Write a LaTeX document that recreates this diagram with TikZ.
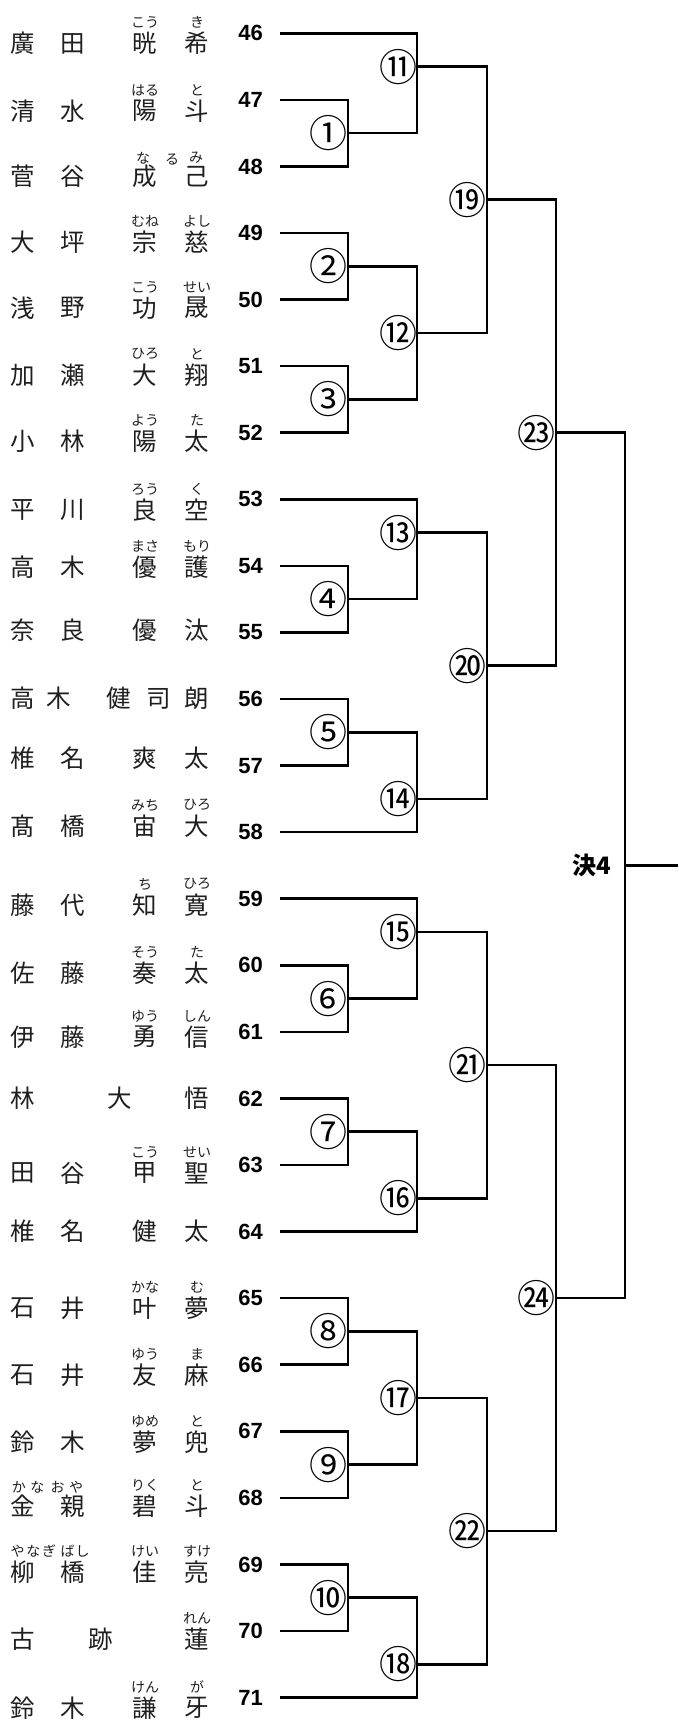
\documentclass[tikz,border=0pt]{standalone}
\usepackage{fontspec}
\setmainfont{Liberation Sans}
\newfontfamily\jp{Noto Sans CJK JP}
\tikzset{
  kanji/.style={inner sep=0pt, font=\jp\fontsize{24.5}{24.5}\selectfont, text=black!88},
  furi/.style={inner sep=0pt, font=\jp\fontsize{14}{14}\selectfont, text=black!88},
  num/.style={inner sep=0pt, anchor=east, font=\bfseries\fontsize{22}{22}\selectfont},
  circ/.style={inner sep=0pt, font=\jp\fontsize{38}{38}\selectfont},
  final/.style={inner sep=0pt, anchor=east, font=\jp\bfseries\fontsize{24}{24}\selectfont},
  br/.style={line width=2.6pt},
}
\newcommand\ry[1]{(33.3+66.57*(#1))}
\newcommand\namerow[8]{%
  \node[kanji] (a#8) at (23,#1) {#2};
  \node[kanji] (b#8) at (73,#1) {#3};
  \node[kanji] (c#8) at (145,#1) {#4};
  \node[kanji] (d#8) at (197,#1) {#5};
  \node[furi] (e#8) at (145,{#1-21}) {#6};
  \node[furi] (f#8) at (197,{#1-21}) {#7};
}
\begin{document}
\begin{tikzpicture}[x=1pt,y=-1pt]
\useasboundingbox (0,0) rectangle (678,1725);

% player numbers and line starts
\foreach \n [count=\i from 0] in {46,...,71} {
  \node[num] (p\n) at (263,{\ry{\i}}) {\n};
  \coordinate (s\n) at (280,{\ry{\i}});
}

% junctions
\coordinate (j1) at (348,{\ry{1.5}});
\coordinate (j2) at (348,{\ry{3.5}});
\coordinate (j3) at (348,{\ry{5.5}});
\coordinate (j4) at (348,{\ry{8.5}});
\coordinate (j5) at (348,{\ry{10.5}});
\coordinate (j6) at (348,{\ry{14.5}});
\coordinate (j7) at (348,{\ry{16.5}});
\coordinate (j8) at (348,{\ry{19.5}});
\coordinate (j9) at (348,{\ry{21.5}});
\coordinate (j10) at (348,{\ry{23.5}});
\coordinate (j11) at (417,{\ry{0.5}});
\coordinate (j12) at (417,{\ry{4.5}});
\coordinate (j13) at (417,{\ry{7.5}});
\coordinate (j14) at (417,{\ry{11.5}});
\coordinate (j15) at (417,{\ry{13.5}});
\coordinate (j16) at (417,{\ry{17.5}});
\coordinate (j17) at (417,{\ry{20.5}});
\coordinate (j18) at (417,{\ry{24.5}});
\coordinate (j19) at (487,{\ry{2.5}});
\coordinate (j20) at (487,{\ry{9.5}});
\coordinate (j21) at (487,{\ry{15.5}});
\coordinate (j22) at (487,{\ry{22.5}});
\coordinate (j23) at (556,{\ry{6}});
\coordinate (j24) at (556,{\ry{19}});
\coordinate (jF) at (625,{\ry{12.5}});
\coordinate (fend) at (678,{\ry{12.5}});

% round 1
\draw[br] (s47) -| (j1) |- (s48);
\draw[br] (s49) -| (j2) |- (s50);
\draw[br] (s51) -| (j3) |- (s52);
\draw[br] (s54) -| (j4) |- (s55);
\draw[br] (s56) -| (j5) |- (s57);
\draw[br] (s60) -| (j6) |- (s61);
\draw[br] (s62) -| (j7) |- (s63);
\draw[br] (s65) -| (j8) |- (s66);
\draw[br] (s67) -| (j9) |- (s68);
\draw[br] (s69) -| (j10) |- (s70);
% round 2
\draw[br] (s46) -| (j11) |- (j1);
\draw[br] (j2) -| (j12) |- (j3);
\draw[br] (s53) -| (j13) |- (j4);
\draw[br] (j5) -| (j14) |- (s58);
\draw[br] (s59) -| (j15) |- (j6);
\draw[br] (j7) -| (j16) |- (s64);
\draw[br] (j8) -| (j17) |- (j9);
\draw[br] (j10) -| (j18) |- (s71);
% round 3
\draw[br] (j11) -| (j19) |- (j12);
\draw[br] (j13) -| (j20) |- (j14);
\draw[br] (j15) -| (j21) |- (j16);
\draw[br] (j17) -| (j22) |- (j18);
% round 4
\draw[br] (j19) -| (j23) |- (j20);
\draw[br] (j21) -| (j24) |- (j22);
% final
\draw[br] (j23) -| (jF) |- (j24);
\draw[br] (jF) -- (fend);

% match labels
\node[circ] (m1) at (328,{\ry{1.5}}) {①};
\node[circ] (m2) at (328,{\ry{3.5}}) {②};
\node[circ] (m3) at (328,{\ry{5.5}}) {③};
\node[circ] (m4) at (328,{\ry{8.5}}) {④};
\node[circ] (m5) at (328,{\ry{10.5}}) {⑤};
\node[circ] (m6) at (328,{\ry{14.5}}) {⑥};
\node[circ] (m7) at (328,{\ry{16.5}}) {⑦};
\node[circ] (m8) at (328,{\ry{19.5}}) {⑧};
\node[circ] (m9) at (328,{\ry{21.5}}) {⑨};
\node[circ] (m10) at (328,{\ry{23.5}}) {⑩};
\node[circ] (m11) at (398,{\ry{0.5}}) {⑪};
\node[circ] (m12) at (398,{\ry{4.5}}) {⑫};
\node[circ] (m13) at (398,{\ry{7.5}}) {⑬};
\node[circ] (m14) at (398,{\ry{11.5}}) {⑭};
\node[circ] (m15) at (398,{\ry{13.5}}) {⑮};
\node[circ] (m16) at (398,{\ry{17.5}}) {⑯};
\node[circ] (m17) at (398,{\ry{20.5}}) {⑰};
\node[circ] (m18) at (398,{\ry{24.5}}) {⑱};
\node[circ] (m19) at (467,{\ry{2.5}}) {⑲};
\node[circ] (m20) at (467,{\ry{9.5}}) {⑳};
\node[circ] (m21) at (467,{\ry{15.5}}) {㉑};
\node[circ] (m22) at (467,{\ry{22.5}}) {㉒};
\node[circ] (m23) at (536,{\ry{6}}) {㉓};
\node[circ] (m24) at (536,{\ry{19}}) {㉔};
\node[final] (kes) at (611,865) {決4};

% names
\namerow{43.5}{廣}{田}{晄}{希}{こう}{き}{46}
\namerow{111}{清}{水}{陽}{斗}{はる}{と}{47}
\namerow{176.5}{菅}{谷}{成}{己}{}{}{48}
\node[furi] (g48a) at (143,158) {な};
\node[furi] (g48b) at (172,160) {る};
\node[furi] (g48c) at (196,158) {み};
\namerow{242}{大}{坪}{宗}{慈}{むね}{よし}{49}
\namerow{308}{浅}{野}{功}{晟}{こう}{せい}{50}
\namerow{375}{加}{瀬}{大}{翔}{ひろ}{と}{51}
\namerow{441.5}{小}{林}{陽}{太}{よう}{た}{52}
\namerow{510}{平}{川}{良}{空}{ろう}{く}{53}
\namerow{567}{高}{木}{優}{護}{まさ}{もり}{54}
\namerow{630}{奈}{良}{優}{汰}{}{}{55}
\node[kanji] (a56) at (23,698.5) {高};
\node[kanji] (b56) at (59,698.5) {木};
\node[kanji] (c56) at (119,698.5) {健};
\node[kanji] (d56) at (159,698.5) {司};
\node[kanji] (e56) at (197,698.5) {朗};
\namerow{758}{椎}{名}{爽}{太}{}{}{57}
\namerow{826}{髙}{橋}{宙}{大}{みち}{ひろ}{58}
\namerow{905}{藤}{代}{知}{寛}{ち}{ひろ}{59}
\namerow{973}{佐}{藤}{奏}{太}{そう}{た}{60}
\namerow{1037}{伊}{藤}{勇}{信}{ゆう}{しん}{61}
\node[kanji] (a62) at (23,1098) {林};
\node[kanji] (b62) at (120,1098) {大};
\node[kanji] (c62) at (197,1098) {悟};
\namerow{1173}{田}{谷}{甲}{聖}{こう}{せい}{63}
\namerow{1231}{椎}{名}{健}{太}{}{}{64}
\namerow{1308}{石}{井}{叶}{夢}{かな}{む}{65}
\namerow{1375}{石}{井}{友}{麻}{ゆう}{ま}{66}
\namerow{1442}{鈴}{木}{夢}{兜}{ゆめ}{と}{67}
\namerow{1506}{金}{親}{碧}{斗}{りく}{と}{68}
\node[furi] (g68a) at (19,1487) {か};
\node[furi] (g68b) at (37.5,1487) {な};
\node[furi] (g68c) at (57.5,1487) {お};
\node[furi] (g68d) at (76,1487) {や};
\namerow{1572}{柳}{橋}{佳}{亮}{けい}{すけ}{69}
\node[furi] (g69a) at (17.5,1551) {や};
\node[furi] (g69b) at (33.3,1551) {な};
\node[furi] (g69c) at (49,1551) {ぎ};
\node[furi] (g69d) at (67.5,1551) {ば};
\node[furi] (g69e) at (82.5,1551) {し};
\node[kanji] (a70) at (23,1639) {古};
\node[kanji] (b70) at (101,1639) {跡};
\node[kanji] (c70) at (197,1639) {蓮};
\node[furi] (f70) at (197,1618) {れん};
\namerow{1708}{鈴}{木}{謙}{牙}{けん}{が}{71}
\end{tikzpicture}
\end{document}
